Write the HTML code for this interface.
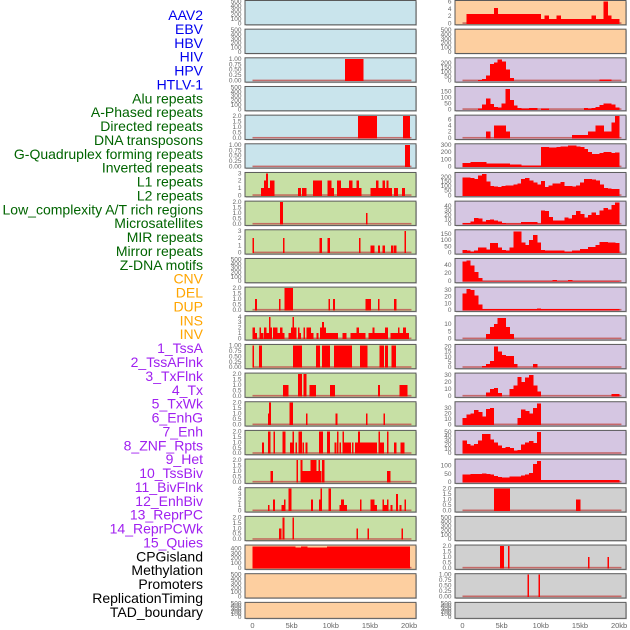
<!DOCTYPE html>
<html><head><meta charset="utf-8"><style>
html,body{margin:0;padding:0;background:#fff;width:630px;height:630px;overflow:hidden}
svg{display:block}
</style></head><body>
<svg id="chart" width="630" height="630" viewBox="0 0 630 630" xmlns="http://www.w3.org/2000/svg"></svg>
<script>
// ---- row labels ----
const labels = ["AAV2","EBV","HBV","HIV","HPV","HTLV-1","Alu repeats","A-Phased repeats","Directed repeats","DNA transposons","G-Quadruplex forming repeats","Inverted repeats","L1 repeats","L2 repeats","Low_complexity A/T rich regions","Microsatellites","MIR repeats","Mirror repeats","Z-DNA motifs","CNV","DEL","DUP","INS","INV","1_TssA","2_TssAFlnk","3_TxFlnk","4_Tx","5_TxWk","6_EnhG","7_Enh","8_ZNF_Rpts","9_Het","10_TssBiv","11_BivFlnk","12_EnhBiv","13_ReprPC","14_ReprPCWk","15_Quies","CPGisland","Methylation","Promoters","ReplicationTiming","TAD_boundary"];
const labelGroups = [6,13,5,15,5];
const groupColors = ["#0000ee","#006400","#ffa500","#a020f0","#000000"];
const xTicks = [0,5,10,15,20];
const xTickLabels = ["0","5kb","10kb","15kb","20kb"];

// ---- tick sets ----
const T500=[0,100,200,300,400,500], T1=[0,0.25,0.5,0.75,1], T2=[0,0.5,1,1.5,2], T3=[0,1,2,3], T4=[0,1,2,3,4];
const T6=[0,2,4,6], T200=[0,50,100,150,200], T150=[0,50,100,150], T300=[0,100,200,300], T40=[0,10,20,30,40];
const T20c=[0,20,40], T30=[0,10,20,30], T10=[0,5,10], T20=[0,5,10,15,20], T50=[0,10,20,30,40,50], T100=[0,50,100], T400=[0,100,200,300,400];

// ---- left column data: [startKb, endKb, value] ----
const L3=[[11.8,14.2,1]];
const L5=[[13.5,15.9,2],[19.2,20.1,2]];
const L6=[[19.5,20.1,1]];
const L7=[[1.1,1.5,1],[1.5,1.7,2],[1.7,1.95,3],[1.95,2.25,1],[2.25,2.8,2],[5.8,6.2,1],[6.3,6.9,1],[7.7,8.9,2],[9.6,10.1,2],[10.1,10.4,1],[10.8,11.3,2],[11.3,12.3,1],[12.3,12.8,2],[12.8,13.3,1],[13.3,13.6,2],[13.6,13.9,1],[15.1,15.8,1],[15.8,16.1,2],[16.1,16.6,1],[16.6,16.9,2],[16.9,17.1,1],[17.1,17.4,2],[17.4,17.8,1],[18.1,18.6,1],[19.1,19.5,1]];
const L8=[[3.5,3.9,2],[14.5,14.7,1]];
const L9=[[0,0.2,2],[3.9,4.1,2],[8.55,8.85,2],[9.6,9.9,2],[13.6,13.8,2],[15.1,15.6,1],[16,16.3,1],[16.6,16.9,1],[17.7,18,1],[18.1,18.4,1],[19.4,19.6,3]];
const L11=[[0.35,0.55,1],[3.4,3.6,1],[4.1,4.4,2],[4.4,5.15,2],[9.7,9.9,1],[10.3,10.55,1],[14.4,15.15,1],[16,16.25,1],[18.1,18.4,1]];
const L12=[[0,0.3,2],[0.3,0.6,1],[0.9,1.1,2],[1.1,1.4,1],[1.5,1.8,2],[1.8,2.1,1],[2.1,2.3,4],[2.3,2.5,2],[2.6,3.2,2],[3.2,3.5,1],[3.5,3.8,2],[3.8,4.1,1],[4.6,4.9,1],[4.9,5.1,2],[5.1,5.3,4],[5.3,5.6,2],[5.8,6.0,2],[6.0,6.2,1],[6.5,6.7,2],[6.9,7.5,2],[7.5,7.8,1],[8.2,8.4,1],[8.6,8.9,2],[8.9,9.1,3],[9.1,9.4,2],[9.4,10.9,1],[11.5,12.0,1],[12.5,13.3,1],[13.3,13.6,2],[13.6,14.4,1],[14.8,15.3,1],[15.3,15.6,2],[15.6,16.9,1],[16.9,17.3,2],[17.6,18.6,1],[18.6,18.8,2],[18.8,19.2,1],[19.2,19.6,2],[19.6,20.0,1]];
const L13=[[0,0.2,1],[0.8,1.2,1],[5.15,6.3,1],[8.1,8.6,1],[8.9,9.9,1],[10.4,12.7,1],[13.7,14.7,1],[16.2,16.8,1],[16.9,17.3,1],[17.75,18.35,1]];
const L14=[[3.9,4.6,1],[5.8,6.3,2],[6.5,6.9,2],[7.3,8.1,1],[9.9,10.55,1],[16,16.3,1],[18.8,19.8,1]];
const L15=[[2.0,2.1,1],[2.1,2.35,2],[4.7,5.15,2],[6.85,7.05,1],[10.6,10.85,1],[14.5,14.7,1],[16.7,16.9,1]];
const L16=[[1.2,1.5,1],[2.0,2.3,2],[2.7,2.9,2],[3.8,4.2,2],[4.8,5.1,1],[5.1,5.3,2],[5.5,5.7,1],[5.9,6.3,2],[6.4,6.6,1],[6.8,7.0,1],[8.5,9.0,2],[9.5,9.9,2],[10.5,10.7,1],[10.8,11.0,2],[11.1,11.3,1],[11.5,11.7,2],[11.7,12.6,1],[12.7,12.9,1],[13.1,13.5,1],[13.5,13.7,2],[13.7,15.9,1],[16.1,16.3,2],[16.3,16.8,1],[17.2,17.4,2],[18.1,18.4,1],[18.9,19.4,1]];
const L17=[[2.3,2.6,1],[5.6,5.8,2],[6.1,6.4,2],[6.4,7.4,1],[7.4,8.2,2],[8.2,8.4,1],[8.4,8.6,2],[8.6,8.8,1],[8.9,9.2,2],[17.2,17.6,1]];
const L18=[[2.0,2.2,1],[2.6,2.9,2],[3.7,4.0,1],[4.0,4.2,2],[4.6,5.0,4],[7.5,7.7,2],[8.5,8.7,2],[8.7,8.9,4],[9.7,10.0,4],[11.1,11.3,1],[11.3,11.7,2],[11.7,12.1,1],[13.7,13.9,2],[15.1,15.6,2],[15.6,15.9,1],[16.6,16.8,2],[16.8,17.2,1],[17.2,17.4,2],[17.6,17.9,1],[18.3,18.6,3],[18.8,19.0,1],[19.4,19.6,2]];
const L19=[[3.4,3.7,1],[3.8,4.1,2],[5.1,5.3,2],[13.3,13.5,1],[14.7,14.9,1],[19.0,19.2,1]];
const L20=[[0,5.5,440],[5.5,6.2,425],[6.2,7.0,440],[7.0,9.5,425],[9.5,20.1,440]];

// ---- right column data: values per 0.5kb bin ----
const R1=[0,2.5,2.5,2.5,2.5,2.5,2.5,2.5,4.2,2.5,2.5,2.5,2.5,2.5,2.5,2.5,2.5,2.5,2.5,2.5,1.2,2.2,1.2,1.2,2.2,1.2,1.2,1.2,1.2,1.2,1.2,1.2,1.2,2.2,1.2,1.2,6,2.2,1.2,1.2];
const R3=[0,0,0,0,5,20,60,190,210,240,220,130,30,0,0,0,0,0,0,0,0,0,0,0,0,0,0,0,0,0,0,0,0,0,0,10,10,10,0,0];
const R4=[0,0,0,0,5,40,90,45,20,15,50,170,80,30,10,5,5,10,10,0,5,5,0,0,0,0,0,0,0,0,0,10,5,10,20,35,50,50,40,15];
const R5=[0,0,0,0,0,0,2,0,4,4,4,2,0,0,0,0,0,0,0,0,0,0,0,0,0,0,0,0,1,1,1,1,2,2,4,4,2,2,5,7];
const R6=[50,50,60,60,60,60,40,40,40,40,40,40,30,30,30,15,15,15,15,15,270,270,260,265,270,275,280,290,290,280,270,240,200,170,170,190,200,200,190,195];
const R7=[195,195,190,180,220,235,150,100,95,90,100,105,105,120,130,180,190,160,140,120,155,90,110,130,130,145,100,100,95,110,140,180,180,175,165,120,80,75,70,70];
const R8=[2,2,5,13,12,5,9,10,8,5,2,1,1,1,1,4,4,4,4,1,30,28,15,8,8,8,14,12,20,28,22,14,20,25,20,30,35,32,42,47];
const R9=[20,15,10,15,40,40,25,75,75,40,20,15,40,170,170,80,60,100,140,80,20,15,15,15,15,15,8,8,15,15,30,30,45,45,60,85,85,80,80,75];
const R10=[48,50,38,22,8,1,1,1,1,1,1,1,1,1,1,1,1,1,1,1,1,1,1,3,1,1,1,3,1,1,1,1,1,1,1,1,1,1,1,1];
const R11=[25,32,30,22,8,1,1,1,1,1,1,1,1,1,1,1,1,1,1,2,1,1,1,1,1,1,1,1,1,1,1,1,1,1,1,1,1,1,1,1];
const R12=[0,0,0,0,0,0,3,8,10,14,14,8,3,0,0,0,0,0,0,0,0,0,0,0,0,0,0,0,0,0,0,0,0,0,0,0,0,0,0,0];
const R13=[0,0,0,0,0,1,3,6,20,15,12,11,11,3,0,0,0,0,3,0,0,0,0,0,0,0,0,0,0,0,0,0,0,0,0,0,0,0,0,0];
const R14=[0,0,0,0,0,0,5,10,11,4,0,0,10,15,27,20,26,30,15,6,0,0,0,0,0,0,0,0,0,0,0,0,0,0,0,0,0,0,3,3];
const R15=[12,18,20,26,22,14,28,30,0,0,0,0,0,0,12,27,24,20,30,38,0,0,0,0,0,0,0,0,0,0,0,0,0,0,0,0,0,0,0,0];
const R16=[30,22,18,22,30,45,45,32,25,18,12,14,12,6,8,20,25,28,24,50,0,0,0,0,0,0,0,0,0,0,0,0,0,0,0,0,0,0,0,0];
const R17=[45,45,48,48,50,52,48,45,35,30,28,28,32,32,32,40,45,55,110,130,10,10,10,10,10,10,10,10,10,10,10,10,10,10,10,10,10,10,10,10];
const R18=[0,0,0,0,0,0,0,0,2,2,2,2,0,0,0,0,0,0,0,0,0,0,0,0,0,0,0,0,0,1,0,0,0,0,0,0,0,0,0,0];
const R20=[[4.8,5.3,2],[5.8,6.0,2],[16.0,16.2,1],[18.5,18.7,1]];
const R21=[[8.3,8.5,1],[9.7,9.9,1]];

const BLUE="#c9e4ec", GREEN="#c7e0a5", ORANGE="#fdcfa0", LAV="#d5c6e2", GRAY="#d0d0d0";
const leftPanels=[
 [null,0,500,T500,0,BLUE],[null,0,500,T500,0,BLUE],[L3,0,1,T1,2,BLUE],[null,0,500,T500,0,BLUE],[L5,0,2,T2,1,BLUE],[L6,0,1,T1,2,BLUE],
 [L7,0,3,T3,0,GREEN],[L8,0,2,T2,1,GREEN],[L9,0,3,T3,0,GREEN],[null,0,500,T500,0,GREEN],[L11,0,2,T2,1,GREEN],[L12,0,4,T4,0,GREEN],
 [L13,0,1,T1,2,GREEN],[L14,0,2,T2,1,GREEN],[L15,0,2,T2,1,GREEN],[L16,0,2,T2,1,GREEN],[L17,0,2,T2,1,GREEN],[L18,0,4,T4,0,GREEN],[L19,0,2,T2,1,GREEN],
 [L20,0,450,T400,0,ORANGE],[null,0,500,T500,0,ORANGE],[null,0,500,T500,0,ORANGE]];
const rightPanels=[
 [R1,1,6,T6,0,ORANGE],[null,0,500,T500,0,ORANGE],[R3,1,250,T200,0,LAV],[R4,1,185,T150,0,LAV],[R5,1,7,T6,0,LAV],[R6,1,300,T300,0,LAV],
 [R7,1,240,T200,0,LAV],[R8,1,48,T40,0,LAV],[R9,1,175,T150,0,LAV],[R10,1,53,T20c,0,LAV],[R11,1,33,T30,0,LAV],[R12,1,15,T10,0,LAV],
 [R13,1,21,T20,0,LAV],[R14,1,31,T30,0,LAV],[R15,1,39,T30,0,LAV],[R16,1,51,T50,0,LAV],[R17,1,135,T100,0,LAV],[R18,1,2,T2,1,GRAY],
 [null,0,500,T500,0,GRAY],[R20,0,2,T2,1,GRAY],[R21,0,1,T1,2,GRAY],[null,0,500,T500,0,GRAY]];

const NS="http://www.w3.org/2000/svg";
const svg=document.getElementById('chart');
function mk(tag,attrs,parent){const e=document.createElementNS(NS,tag);for(const k in attrs)e.setAttribute(k,attrs[k]);(parent||svg).appendChild(e);return e;}

let li=0;
labelGroups.forEach((n,g)=>{for(let j=0;j<n;j++){const t=mk('text',{x:203,y:15+li*13.88+5,'text-anchor':'end','font-family':'Liberation Sans, sans-serif','font-size':'14',fill:groupColors[g]});
 
 
 t.textContent=labels[li];li++;}});

function drawColumn(panels,px0,pw,xz,col){
 const xs=kb=>xz+kb*7.83;
 panels.forEach((p,i)=>{
  const [data,isBins,ymax,ticks,dec,bg]=p;
  const top=0.5+i*28.66, h=(i===21)?16:24.3;
  const g=mk('g',{});
  
  
  const ys=v=>top+h-1.5-(v/ymax)*(h-2.5);
  mk('rect',{x:px0+1,y:top+1,width:pw,height:h,fill:'#999',opacity:0.5},g);
  const bgR=mk('rect',{x:px0,y:top,width:pw,height:h,fill:bg,stroke:'#5a5a5a','stroke-width':1},g);
  
  
  ticks.forEach(tv=>{const t=mk('text',{x:px0-3.5,y:ys(tv)+2,'text-anchor':'end','font-family':'Liberation Sans, sans-serif','font-size':'6.5',fill:'#666'},g);
   
   
   t.textContent=tv.toFixed(dec);});
  if(!data)return;
  const bl=mk('rect',{x:xs(0),y:ys(0)-1,width:xs(20.3)-xs(0),height:1.6,fill:'#c0504d',opacity:0.8},g);
  
  
  const segs=isBins?data.map((v,k)=>[k*0.5,k*0.5+0.5,v]):data;
  const pad=isBins?0.4:0;
  segs.forEach(s=>{if(s[2]<=0)return;
   const r=mk('rect',{x:xs(s[0]),y:ys(s[2]),width:Math.max(1.2,xs(s[1])-xs(s[0])+pad),height:ys(0)-ys(s[2])+0.5,fill:'#ff0000','shape-rendering':'crispEdges'},g);
   
   });
 });
 xTicks.forEach((t,k)=>{const e=mk('text',{x:xs(t),y:628,'text-anchor':'middle','font-family':'Liberation Sans, sans-serif','font-size':'7.5',fill:'#666'});
  
  
  e.textContent=xTickLabels[k];});
}
drawColumn(leftPanels,245,171,252.5,'left');
drawColumn(rightPanels,455,171,462.5,'right');
</script>
</body></html>
